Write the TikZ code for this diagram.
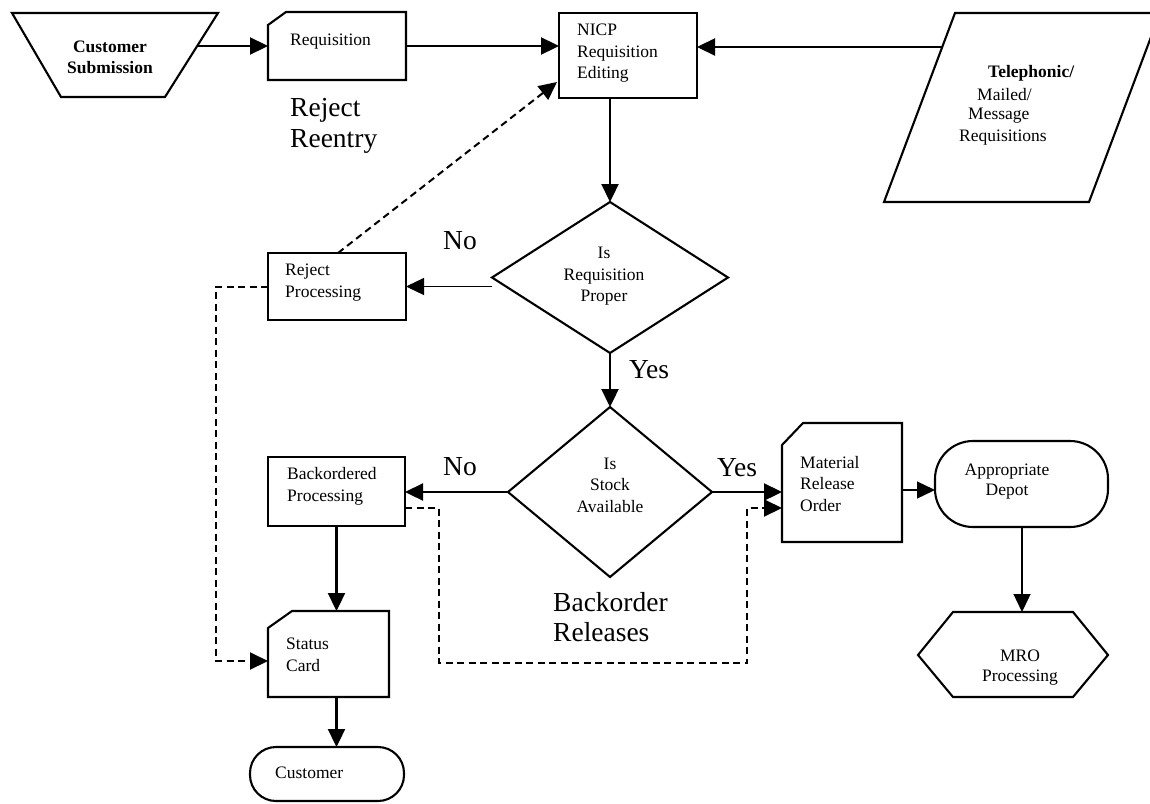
\documentclass[tikz,border=0pt]{standalone}
\usepackage{fontspec}
\setmainfont{Liberation Serif}
\usetikzlibrary{arrows.meta,calc,shapes.geometric}
\begin{document}
\begin{tikzpicture}[x=1pt,y=-1pt,
  outline/.style={draw, line width=2.1pt, line join=miter},
  tip/.style={-{Triangle[length=18pt,width=17pt]}},
  flow/.style={tip, line width=2.3pt},
  thinflow/.style={tip, line width=1.3pt},
  dashflow/.style={tip, line width=2pt, dash pattern=on 7pt off 4.5pt},
  small/.style={font=\fontsize{17.5}{21.5}\selectfont, inner sep=0pt},
  lbl/.style={small, align=left},
  clbl/.style={small, align=center},
  big/.style={font=\fontsize{27.5}{30.5}\selectfont, inner sep=0pt, align=left},
  plain/.style={inner sep=0pt, outer sep=0pt},
  boxnode/.style={plain, outline, rectangle},
  decision/.style={plain, outline, diamond},
]
\useasboundingbox (0,0) rectangle (1150,803);
\clip (0,0) rectangle (1150,803);

% ---- top row -------------------------------------------------------
% Customer Submission (manual operation trapezoid)
\draw[outline] (12,13) -- (218,13) -- (165,97) -- (61,97) -- cycle;
\coordinate (csE) at (197,46);
\node[clbl, font=\fontsize{17.5}{21}\selectfont\bfseries] (cs) at (110,57) {Customer\\Submission};

% Requisition (card)
\node[plain, minimum width=138pt, minimum height=68pt] (req) at (337,46) {};
\draw[outline] ($(req.north west)+(0,13)$) -- ($(req.north west)+(18,0)$)
  -- (req.north east) -- (req.south east) -- (req.south west) -- cycle;
\node[lbl, anchor=west] (reqT) at (290,42) {Requisition};
\node[big, anchor=west] (reentry) at (290,126) {Reject\\Reentry};

% NICP Requisition Editing
\node[boxnode, minimum width=138pt, minimum height=85pt] (nicp) at (628,55.5) {};
\node[lbl, anchor=west] (nicpT) at (577,53.5) {NICP\\Requisition\\Editing};

% Telephonic / Mailed / Message Requisitions (input parallelogram)
\draw[outline] (884,202) -- (1089,202) -- (1160,13) -- (955,13) -- cycle;
\coordinate (telW) at (942,47);
\node[lbl, anchor=west, font=\fontsize{17.5}{21.5}\selectfont\bfseries] (tel1) at (988,73) {Telephonic/};
\node[lbl, anchor=west] (tel2) at (977,94.5) {Mailed/};
\node[lbl, anchor=west] (tel3) at (968,116) {Message};
\node[lbl, anchor=west] (tel4) at (959,137.5) {Requisitions};

% ---- first decision ------------------------------------------------
\node[decision, minimum width=236pt, minimum height=151pt] (dia1) at (610,277.5) {};
\node[clbl] (dia1T) at (604,276.5) {Is\\Requisition\\Proper};
\node[big] (no1) at (460,241) {No};
\node[big] (yes1) at (649,370) {Yes};

% Reject Processing
\node[boxnode, minimum width=138pt, minimum height=67pt] (rej) at (337,286.5) {};
\node[lbl, anchor=west] (rejT) at (285,282.5) {Reject\\Processing};

% ---- second decision -----------------------------------------------
\node[decision, minimum width=204pt, minimum height=170pt] (dia2) at (610,492) {};
\node[clbl] (dia2T) at (610,485) {Is\\Stock\\Available};
\node[big] (no2) at (460,467) {No};
\node[big] (yes2) at (737,468) {Yes};
\node[big, anchor=west] (borel) at (553,617) {Backorder\\Releases};

% Backordered Processing
\node[boxnode, minimum width=137pt, minimum height=69pt] (back) at (336.5,491.5) {};
\node[lbl, anchor=west] (backT) at (287,486.5) {Backordered\\Processing};

% Status Card (card)
\node[plain, minimum width=121pt, minimum height=86pt] (stat) at (328.5,654) {};
\draw[outline] ($(stat.north west)+(0,17)$) -- ($(stat.north west)+(24,0)$)
  -- (stat.north east) -- (stat.south east) -- (stat.south west) -- cycle;
\node[lbl, anchor=west] (statT) at (286,655) {Status\\Card};

% Customer (terminator)
\node[boxnode, rounded corners=26pt, minimum width=154pt, minimum height=54pt] (cust) at (327,774) {};
\node[lbl, anchor=west] (custT) at (275,773) {Customer};

% Material Release Order (card)
\node[plain, minimum width=120pt, minimum height=119pt] (mat) at (842,482.5) {};
\draw[outline] ($(mat.north west)+(0,22)$) -- ($(mat.north west)+(21,0)$)
  -- (mat.north east) -- (mat.south east) -- (mat.south west) -- cycle;
\node[lbl, anchor=west] (matT) at (800,484) {Material\\Release\\Order};

% Appropriate Depot (terminator)
\node[boxnode, rounded corners=38pt, minimum width=173pt, minimum height=86pt] (dep) at (1021.5,484) {};
\node[clbl, font=\fontsize{17.5}{20}\selectfont] (depT) at (1007,482) {Appropriate\\Depot};

% MRO Processing (hexagon)
\draw[outline] (953,612) -- (1073,612) -- (1108,655) -- (1073,697) -- (953,697) -- (918,655) -- cycle;
\coordinate (mroN) at (1022,612);
\node[clbl, font=\fontsize{17.5}{20}\selectfont] (mroT) at (1020,668) {MRO\\Processing};

% ---- connectors ----------------------------------------------------
\draw[flow] (csE) -- (req.west);
\draw[flow] (req.east) -- (req.east -| nicp.west);
\draw[flow] (telW) -- (telW -| nicp.east);
\draw[flow] (nicp.south -| dia1.north) -- (dia1.north);
\draw[thinflow] (dia1.west |- rej.east) -- (rej.east);
\draw[flow] (dia1.south) -- (dia2.north);
\draw[flow] (dia2.west) -- (dia2.west -| back.east);
\draw[flow] (dia2.east) -- (dia2.east -| mat.west);
\draw[flow] (back.south) -- (back.south |- stat.north);
\draw[flow] (back.south |- stat.south) -- (back.south |- cust.north);
\coordinate (matE) at (902,490);
\draw[thinflow] (matE) -- (matE -| dep.west);
\draw[thinflow] (dep.south -| mroN) -- (mroN);

% dashed reject / backorder paths
\coordinate (rejTop) at (338,253);
\coordinate (nicpIn) at (557,82);
\draw[dashflow] (rejTop) -- (nicpIn);
\coordinate (statIn) at (268,661);
\draw[dashflow] (rej.west) -- ++(-52,0) |- (statIn);
\coordinate (backOut) at (405,508);
\coordinate (matIn) at (782,508);
\draw[dashflow] (backOut) -- (439,508) -- (439,663) -- (747,663) -- (747,508) -- (matIn);
\end{tikzpicture}
\end{document}
